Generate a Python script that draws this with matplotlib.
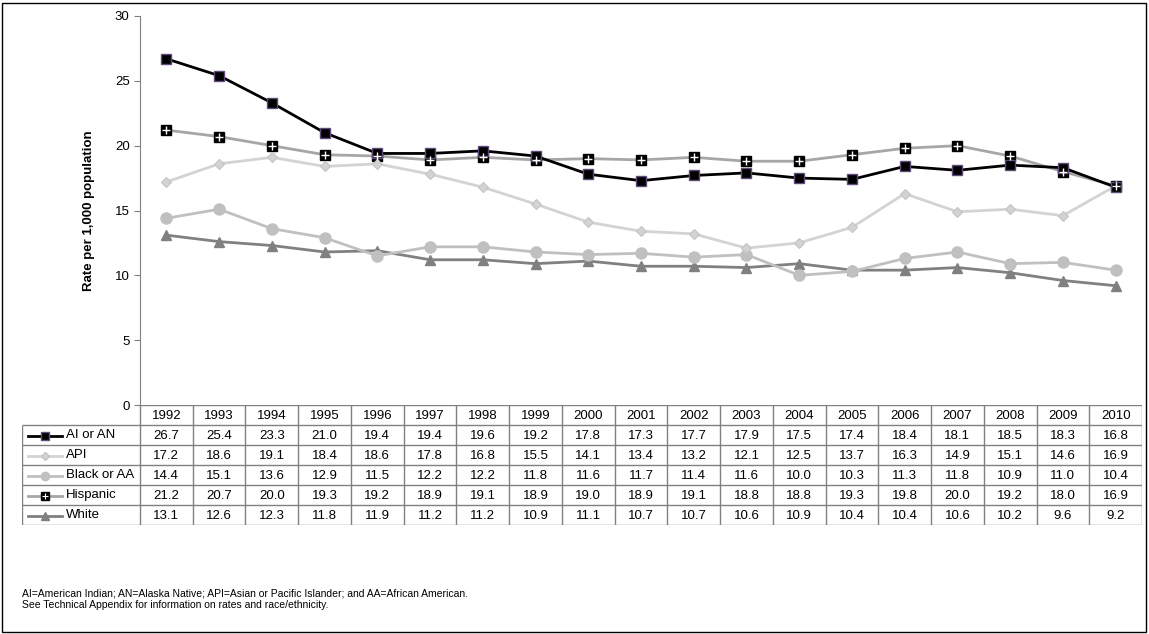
import numpy as np
import matplotlib.pyplot as plt
from matplotlib.patches import Rectangle
from matplotlib.lines import Line2D

plt.rcParams['font.family'] = ['Liberation Sans', 'DejaVu Sans']

years = [str(y) for y in range(1992, 2011)]
ai_an = [26.7, 25.4, 23.3, 21.0, 19.4, 19.4, 19.6, 19.2, 17.8, 17.3, 17.7, 17.9, 17.5, 17.4, 18.4, 18.1, 18.5, 18.3, 16.8]
api = [17.2, 18.6, 19.1, 18.4, 18.6, 17.8, 16.8, 15.5, 14.1, 13.4, 13.2, 12.1, 12.5, 13.7, 16.3, 14.9, 15.1, 14.6, 16.9]
black_aa = [14.4, 15.1, 13.6, 12.9, 11.5, 12.2, 12.2, 11.8, 11.6, 11.7, 11.4, 11.6, 10.0, 10.3, 11.3, 11.8, 10.9, 11.0, 10.4]
hispanic = [21.2, 20.7, 20.0, 19.3, 19.2, 18.9, 19.1, 18.9, 19.0, 18.9, 19.1, 18.8, 18.8, 19.3, 19.8, 20.0, 19.2, 18.0, 16.9]
white = [13.1, 12.6, 12.3, 11.8, 11.9, 11.2, 11.2, 10.9, 11.1, 10.7, 10.7, 10.6, 10.9, 10.4, 10.4, 10.6, 10.2, 9.6, 9.2]

series = [
    ('AI or AN', ai_an, dict(color='black', marker='s', ms=7, mfc='black', mec='#5f497a', mew=1.0)),
    ('API', api, dict(color='#d3d3d3', marker='D', ms=5.5, mfc='#d3d3d3', mec='#c4c4c4', mew=0.8)),
    ('Black or AA', black_aa, dict(color='#c0c0c0', marker='o', ms=8, mfc='#c0c0c0', mec='#c0c0c0', mew=1.0)),
    ('Hispanic', hispanic, dict(color='#a6a6a6', marker='s', ms=7, mfc='black', mec='black', mew=1.0)),
    ('White', white, dict(color='#808080', marker='^', ms=7.5, mfc='#808080', mec='#808080', mew=1.0)),
]

W, H = 1149, 634
fig = plt.figure(figsize=(W / 100, H / 100), dpi=100)
ax = fig.add_axes([140 / W, 1 - 405 / H, 1002 / W, 389 / H])

x = np.arange(len(years))
# draw back to front: White first, AI or AN on top
for name, vals, st in reversed(series):
    ax.plot(x, vals, lw=2, zorder=3, clip_on=False, **st)
    if name == 'Hispanic':
        ax.plot(x, vals, ls='none', marker='+', ms=6, mew=1.0, color='white', zorder=4, clip_on=False)

ax.set_xlim(-0.5, len(years) - 0.5)
ax.set_ylim(0, 30)
ax.set_yticks(range(0, 31, 5))
ax.tick_params(axis='y', labelsize=9.5, length=4, color='#808080')
ax.set_xticks([])
ax.spines['top'].set_visible(False)
ax.spines['right'].set_visible(False)
ax.spines['left'].set_color('#808080')
ax.spines['bottom'].set_visible(False)
ax.set_ylabel('Rate per 1,000 population', fontsize=9.5, fontweight='bold', labelpad=14)

# data table below the plot, same x scale as the chart
colw = 1002 / len(years)
labw = 118 / colw  # label column width in category units
lab_l = -0.5 - labw
tax = fig.add_axes([22 / W, 1 - 525 / H, 1120 / W, 120 / H])
tax.set_xlim(lab_l, len(years) - 0.5)
tax.set_ylim(6, 0)
tax.axis('off')
gc = '#808080'
tax.hlines(0, -0.5, len(years) - 0.5, color=gc, lw=1)
tax.hlines(range(1, 7), lab_l, len(years) - 0.5, color=gc, lw=1)
tax.vlines(np.arange(len(years) + 1) - 0.5, 0, 6, color=gc, lw=1)
tax.vlines(lab_l, 1, 6, color=gc, lw=1)
for j, yr in enumerate(years):
    tax.text(j, 0.55, yr, ha='center', va='center', fontsize=9.5)
for i, (name, vals, st) in enumerate(series):
    tax.text(lab_l + 0.84, i + 1.5, name, ha='left', va='center', fontsize=9.5)
    for j, v in enumerate(vals):
        tax.text(j, i + 1.55, f'{v:.1f}', ha='center', va='center', fontsize=9.5)

# legend keys inside the row-label cells
for i, (name, vals, st) in enumerate(series):
    yc = 1 - (435.5 + 20 * i) / H
    fig.add_artist(Line2D([28 / W, 62 / W], [yc, yc], lw=2, color=st['color']))
    fig.add_artist(Line2D([45 / W], [yc], ls='none', marker=st['marker'], ms=st['ms'] * 0.75,
                          mfc=st['mfc'], mec=st['mec']))
    if name == 'Hispanic':
        fig.add_artist(Line2D([45 / W], [yc], ls='none', marker='+', ms=4.5, mew=0.8, color='white'))

fig.text(22 / W, 1 - 593 / H, 'AI=American Indian; AN=Alaska Native; API=Asian or Pacific Islander; and AA=African American.',
         fontsize=7.5, va='center')
fig.text(22 / W, 1 - 605 / H, 'See Technical Appendix for information on rates and race/ethnicity.',
         fontsize=7.5, va='center')

fig.add_artist(Rectangle((2 / W, 2 / H), 1144 / W, 629 / H, transform=fig.transFigure,
                         fill=False, edgecolor='black', lw=1.0))

fig.savefig('out.png', dpi=100)
